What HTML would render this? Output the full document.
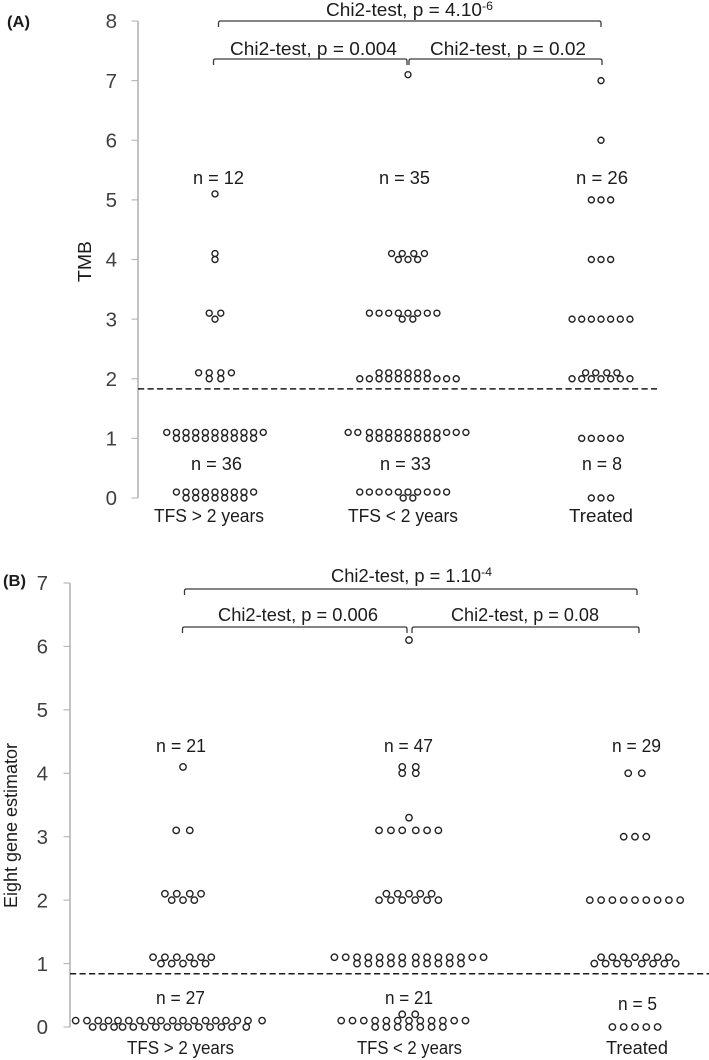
<!DOCTYPE html>
<html lang="en">
<head>
<meta charset="utf-8">
<title>TMB and eight gene estimator by treatment group</title>
<style>
html,body{margin:0;padding:0;background:#fff;}
svg{display:block;}
text{font-family:"Liberation Sans",sans-serif;fill:#1c1c1c;}
.tick-label{fill:#404040;font-size:20.5px;text-anchor:end;}
.lbl{font-size:18.5px;}
.bracket{fill:none;stroke:#3a3a3a;stroke-width:1.3;}
</style>
</head>
<body>
<svg id="chart" width="709" height="1060" viewBox="0 0 709 1060" xmlns="http://www.w3.org/2000/svg">
  <text x="7" y="27" font-size="15.5" font-weight="bold" textLength="23" lengthAdjust="spacingAndGlyphs">(A)</text>
  <text x="3" y="586" font-size="15.5" font-weight="bold" textLength="23" lengthAdjust="spacingAndGlyphs">(B)</text>

  <text class="lbl" transform="translate(91,282) rotate(-90)" textLength="41" lengthAdjust="spacingAndGlyphs">TMB</text>
  <text class="lbl" transform="translate(17,908) rotate(-90)" textLength="165" lengthAdjust="spacingAndGlyphs">Eight gene estimator</text>

  <g>
    <path class="bracket" d="M218.5 27V23Q218.5 21 220.5 21H599Q601 21 601 23V27"/>
    <path class="bracket" d="M213.5 65V61Q213.5 59 215.5 59H405Q407 59 407 61V65"/>
    <path class="bracket" d="M409 65V61Q409 59 411 59H600Q602 59 602 61V65"/>
    <text class="lbl" y="16"><tspan x="326" textLength="156" lengthAdjust="spacingAndGlyphs">Chi2-test, p = 4.10</tspan><tspan x="482" y="10" font-size="12" textLength="11" lengthAdjust="spacingAndGlyphs">-6</tspan></text>
    <text class="lbl" x="230" y="55" textLength="167" lengthAdjust="spacingAndGlyphs">Chi2-test, p = 0.004</text>
    <text class="lbl" x="430" y="55" textLength="156" lengthAdjust="spacingAndGlyphs">Chi2-test, p = 0.02</text>
  </g>

  <g>
    <path class="bracket" d="M184.5 595V591Q184.5 589 186.5 589H635Q637 589 637 591V595"/>
    <path class="bracket" d="M182.5 633V629Q182.5 627 184.5 627H405Q407 627 407 629V633"/>
    <path class="bracket" d="M412 633V629Q412 627 414 627H637Q639 627 639 629V633"/>
    <text class="lbl" y="582"><tspan x="331" textLength="150" lengthAdjust="spacingAndGlyphs">Chi2-test, p = 1.10</tspan><tspan x="481" y="576" font-size="12" textLength="11" lengthAdjust="spacingAndGlyphs">-4</tspan></text>
    <text class="lbl" x="218" y="621" textLength="160" lengthAdjust="spacingAndGlyphs">Chi2-test, p = 0.006</text>
    <text class="lbl" x="451" y="621" textLength="148" lengthAdjust="spacingAndGlyphs">Chi2-test, p = 0.08</text>
  </g>

  <g>
    <text class="lbl" x="193" y="184" textLength="51" lengthAdjust="spacingAndGlyphs">n = 12</text>
    <text class="lbl" x="379" y="184" textLength="51" lengthAdjust="spacingAndGlyphs">n = 35</text>
    <text class="lbl" x="576" y="184" textLength="52" lengthAdjust="spacingAndGlyphs">n = 26</text>
    <text class="lbl" x="191" y="470" textLength="51" lengthAdjust="spacingAndGlyphs">n = 36</text>
    <text class="lbl" x="380" y="470" textLength="51" lengthAdjust="spacingAndGlyphs">n = 33</text>
    <text class="lbl" x="582" y="470" textLength="40" lengthAdjust="spacingAndGlyphs">n = 8</text>
  </g>

  <g>
    <text class="lbl" x="156" y="752" textLength="50" lengthAdjust="spacingAndGlyphs">n = 21</text>
    <text class="lbl" x="384" y="752" textLength="49" lengthAdjust="spacingAndGlyphs">n = 47</text>
    <text class="lbl" x="612" y="752" textLength="49" lengthAdjust="spacingAndGlyphs">n = 29</text>
    <text class="lbl" x="156" y="1004" textLength="49" lengthAdjust="spacingAndGlyphs">n = 27</text>
    <text class="lbl" x="385" y="1004" textLength="48" lengthAdjust="spacingAndGlyphs">n = 21</text>
    <text class="lbl" x="618" y="1010" textLength="39" lengthAdjust="spacingAndGlyphs">n = 5</text>
  </g>

  <g>
    <text class="lbl" x="154" y="522" textLength="110" lengthAdjust="spacingAndGlyphs">TFS &gt; 2 years</text>
    <text class="lbl" x="348" y="522" textLength="110" lengthAdjust="spacingAndGlyphs">TFS &lt; 2 years</text>
    <text class="lbl" x="569" y="522" textLength="64" lengthAdjust="spacingAndGlyphs">Treated</text>
  </g>
  <g>
    <text class="lbl" x="127" y="1054" textLength="107" lengthAdjust="spacingAndGlyphs">TFS &gt; 2 years</text>
    <text class="lbl" x="357" y="1054" textLength="105" lengthAdjust="spacingAndGlyphs">TFS &lt; 2 years</text>
    <text class="lbl" x="606" y="1054" textLength="62" lengthAdjust="spacingAndGlyphs">Treated</text>
  </g>
</svg>

<script>
// Tick labels
const tmbTicks = [0, 1, 2, 3, 4, 5, 6, 7, 8];
const estimatorTicks = [0, 1, 2, 3, 4, 5, 6, 7];

// Cut-off values (dashed lines)
const tmbCutoff = [1.83];
const estimatorCutoff = [0.84];

// Group index on the category axis (1, 2, 3); slot = horizontal swarm offset in units of 0.05 category
// Panel A: TMB
const tmbTfsOver2Values = [
  5.1,
  4.1, 4.0,
  3.1, 3.1, 3.0,
  2.1, 2.1, 2.1, 2.1, 2.0, 2.0,
  1.1, 1.1, 1.1, 1.1, 1.1, 1.1, 1.1, 1.1, 1.1, 1.1, 1.1,
  1.0, 1.0, 1.0, 1.0, 1.0, 1.0, 1.0, 1.0, 1.0,
  0.1, 0.1, 0.1, 0.1, 0.1, 0.1, 0.1, 0.1, 0.1,
  0, 0, 0, 0, 0, 0, 0
];
const tmbTfsOver2Slots = [
  0,
  0, 0,
  -0.6, 0.6, 0,
  -1.7, -0.6, 0.6, 1.7, -0.6, 0.6,
  -5, -4, -3, -2, -1, 0, 1, 2, 3, 4, 5,
  -4, -3, -2, -1, 0, 1, 2, 3, 4,
  -4, -3, -2, -1, 0, 1, 2, 3, 4,
  -3, -2, -1, 0, 1, 2, 3
];
const tmbTfsUnder2Values = [
  7.1,
  4.1, 4.1, 4.1, 4.1, 4.0, 4.0, 4.0,
  3.1, 3.1, 3.1, 3.1, 3.1, 3.1, 3.1, 3.1, 3.0, 3.0,
  2.1, 2.1, 2.1, 2.1, 2.1, 2.1,
  2.0, 2.0, 2.0, 2.0, 2.0, 2.0, 2.0, 2.0, 2.0, 2.0, 2.0,
  1.1, 1.1, 1.1, 1.1, 1.1, 1.1, 1.1, 1.1, 1.1, 1.1, 1.1, 1.1, 1.1,
  1.0, 1.0, 1.0, 1.0, 1.0, 1.0, 1.0, 1.0,
  0.1, 0.1, 0.1, 0.1, 0.1, 0.1, 0.1, 0.1, 0.1, 0.1,
  0, 0
];
const tmbTfsUnder2Slots = [
  0,
  -1.7, -0.6, 0.6, 1.7, -1, 0, 1,
  -4, -3, -2, -1, 0, 1, 2, 3, -0.6, 0.5,
  -3, -2, -1, 0, 1, 2,
  -5, -4, -3, -2, -1, 0, 1, 2, 3, 4, 5,
  -6.2, -5.2, -4, -3, -2, -1, 0, 1, 2, 3, 4, 5, 6,
  -4, -3, -2, -1, 0, 1, 2, 3,
  -5, -4, -3, -2, -1, 0, 1, 2, 3, 4,
  -0.5, 0.5
];
const tmbTreatedValues = [
  7.0,
  6.0,
  5.0, 5.0, 5.0,
  4.0, 4.0, 4.0,
  3.0, 3.0, 3.0, 3.0, 3.0, 3.0, 3.0,
  2.1, 2.1, 2.1, 2.1,
  2.0, 2.0, 2.0, 2.0, 2.0, 2.0, 2.0,
  1.0, 1.0, 1.0, 1.0, 1.0,
  0, 0, 0
];
const tmbTreatedSlots = [
  0,
  0,
  -1, 0, 1,
  -1, 0, 1,
  -3, -2, -1, 0, 1, 2, 3,
  -1.6, -0.55, 0.6, 1.65,
  -3, -2, -1, 0, 1, 2, 3,
  -2, -1, 0, 1, 2,
  -1, 0, 1
];

// Panel B: eight gene estimator
const estTfsOver2Values = [
  4.1,
  3.1, 3.1,
  2.1, 2.1, 2.1, 2.1, 2.0, 2.0, 2.0,
  1.1, 1.1, 1.1, 1.1, 1.1, 1.1, 1.0, 1.0, 1.0, 1.0, 1.0,
  0.1, 0.1, 0.1, 0.1, 0.1, 0.1, 0.1, 0.1, 0.1, 0.1, 0.1, 0.1, 0.1, 0.1, 0.1, 0.1, 0.1, 0.1,
  0, 0, 0, 0, 0, 0, 0, 0, 0, 0, 0, 0, 0, 0, 0
];
const estTfsOver2Slots = [
  0,
  -0.6, 0.6,
  -1.6, -0.55, 0.6, 1.6, -1, 0, 1,
  -2.65, -1.6, -0.55, 0.6, 1.6, 2.5, -1.95, -1, 0, 1, 2,
  -9.5, -8.5, -7.5, -6.6, -5.75, -4.8, -3.8, -2.8, -1.95, -0.9, 0, 1, 2, 2.9, 3.8, 4.8, 5.75, 7,
  -8, -7.05, -6.1, -5.35, -4.4, -3.4, -2.4, -1.4, -0.45, 0.45, 1.4, 2.4, 3.4, 4.35, 5.6
];
const estTfsUnder2Values = [
  6.1,
  4.1, 4.1, 4.0, 4.0,
  3.3,
  3.1, 3.1, 3.1, 3.1, 3.1, 3.1,
  2.1, 2.1, 2.1, 2.1, 2.1,
  2.0, 2.0, 2.0, 2.0, 2.0, 2.0,
  1.1, 1.1, 1.1, 1.1, 1.1, 1.1, 1.1, 1.1, 1.1, 1.1, 1.1, 1.1, 1.1, 1.1,
  1.0, 1.0, 1.0, 1.0, 1.0, 1.0, 1.0, 1.0, 1.0, 1.0,
  0.2, 0.2,
  0.1, 0.1, 0.1, 0.1, 0.1, 0.1, 0.1, 0.1, 0.1, 0.1, 0.1, 0.1,
  0, 0, 0, 0, 0, 0, 0
];
const estTfsUnder2Slots = [
  0,
  -0.6, 0.6, -0.6, 0.6,
  0,
  -2.65, -1.6, -0.6, 0.6, 1.6, 2.6,
  -2, -1, 0, 1, 2,
  -2.65, -1.6, -0.6, 0.55, 1.6, 2.6,
  -6.6, -5.6, -4.6, -3.6, -2.6, -1.6, -0.6, 0.6, 1.6, 2.6, 3.6, 4.6, 5.6, 6.6,
  -4.6, -3.6, -2.6, -1.6, -0.6, 0.6, 1.6, 2.6, 3.6, 4.6,
  -0.6, 0.55,
  -6, -5, -4, -3, -2, -1, 0, 1, 2, 3, 4, 5,
  -3, -2, -1, 0, 1, 2, 3
];
const estTreatedValues = [
  4.0, 4.0,
  3.0, 3.0, 3.0,
  2.0, 2.0, 2.0, 2.0, 2.0, 2.0, 2.0, 2.0, 2.0,
  1.1, 1.1, 1.1, 1.1, 1.1, 1.1, 1.1,
  1.0, 1.0, 1.0, 1.0, 1.0, 1.0, 1.0, 1.0,
  0, 0, 0, 0, 0
];
const estTreatedSlots = [
  -0.6, 0.6,
  -1, 0, 1,
  -4, -3, -2, -1, 0, 1, 2, 3, 4,
  -3, -2, -1, 0, 1, 2, 3,
  -3.6, -2.6, -1.6, -0.6, 0.6, 1.6, 2.6, 3.6,
  -2, -1, 0, 1, 2
];

const SVG_NS = 'http://www.w3.org/2000/svg';
const chart = document.getElementById('chart');

function tmbX(c) { return 215 + (c - 1) * 193; }
function tmbY(v) { return 498 - v * 59.625; }
function estX(c) { return 183 + (c - 1) * 226; }
function estY(v) { return 1027 - v * 63.43; }

function make(tag, attrs, parent) {
  const el = document.createElementNS(SVG_NS, tag);
  for (const k in attrs) el.setAttribute(k, attrs[k]);
  parent.appendChild(el);
  return el;
}

function drawAxis(prefix, ticks, yFn, axisX, labelX) {
  const g = make('g', {}, chart);
  
  
  const line = make('line', {
    x1: axisX, x2: axisX, y1: yFn(ticks[0]), y2: yFn(ticks[ticks.length - 1]),
    stroke: '#b4b4b4', 'stroke-width': 1.6
  }, g);
  
  
  ticks.forEach(function (t) {
    const tick = make('line', {
      x1: axisX - 6.5, x2: axisX, y1: yFn(t), y2: yFn(t),
      stroke: '#b4b4b4', 'stroke-width': 1.1
    }, g);
    
    
    const label = make('text', { x: labelX, y: yFn(t) + 7.2, 'class': 'tick-label' }, g);
    
    
    label.textContent = String(t);
  });
}

function drawCutoff(prefix, value, yFn, x1, x2) {
  const line = make('line', {
    x1: x1, x2: x2, y1: yFn(value), y2: yFn(value),
    stroke: '#1c1c1c', 'stroke-width': 1.5, 'stroke-dasharray': '6.2 3.3'
  }, chart);
  
  
}

function drawGroup(name, category, values, slots, xFn, yFn, r) {
  const g = make('g', {}, chart);
  
  
  values.forEach(function (v, i) {
    const dot = make('circle', {
      cx: xFn(category + slots[i] * 0.05), cy: yFn(v), r: r,
      fill: 'none', stroke: '#222', 'stroke-width': 1.4
    }, g);
    
    
  });
}

drawAxis('panel-a', tmbTicks, tmbY, 138, 117);
drawAxis('panel-b', estimatorTicks, estY, 70, 48);
drawCutoff('panel-a', tmbCutoff[0], tmbY, 138, 657);
drawCutoff('panel-b', estimatorCutoff[0], estY, 70, 709);

drawGroup('tmb-tfs-over-2', 1, tmbTfsOver2Values, tmbTfsOver2Slots, tmbX, tmbY, 3);
drawGroup('tmb-tfs-under-2', 2, tmbTfsUnder2Values, tmbTfsUnder2Slots, tmbX, tmbY, 3);
drawGroup('tmb-treated', 3, tmbTreatedValues, tmbTreatedSlots, tmbX, tmbY, 3);
drawGroup('estimator-tfs-over-2', 1, estTfsOver2Values, estTfsOver2Slots, estX, estY, 3.2);
drawGroup('estimator-tfs-under-2', 2, estTfsUnder2Values, estTfsUnder2Slots, estX, estY, 3.2);
drawGroup('estimator-treated', 3, estTreatedValues, estTreatedSlots, estX, estY, 3.2);
</script>
</body>
</html>
